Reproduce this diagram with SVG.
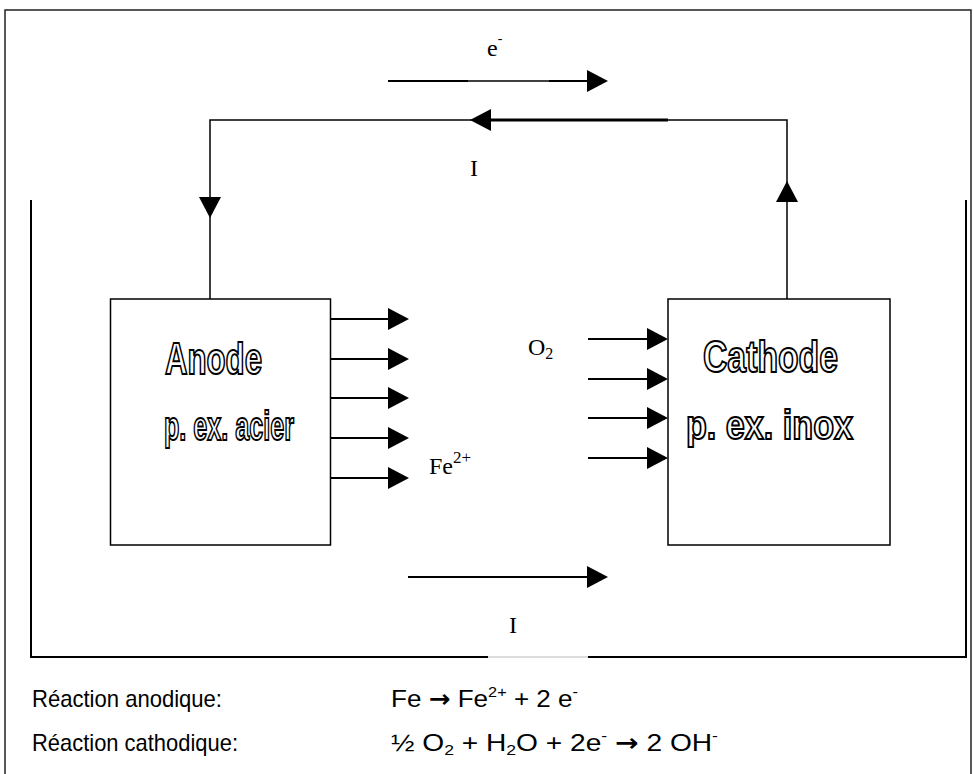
<svg xmlns="http://www.w3.org/2000/svg" width="974" height="774" viewBox="0 0 974 774">
<style>
.frame{fill:none;stroke:#222;stroke-width:1.5}
.wire{fill:none;stroke:#000;stroke-width:1.5}
.thick{fill:none;stroke:#000;stroke-width:3}
.arr{fill:none;stroke:#000;stroke-width:2}
.head{fill:#000}
.box{fill:#fff;stroke:#000;stroke-width:1.5}
.hollow{font-family:"Liberation Sans Narrow","Liberation Sans",Arial,sans-serif;font-weight:bold;font-size:44px;fill:#fff;stroke:#000;stroke-width:2}
.small{font-size:40px}
.serif{font-family:"Liberation Serif","Times New Roman",serif;font-size:24px;fill:#000}
.sans{font-family:"Liberation Sans",Arial,sans-serif;font-size:24px;fill:#000}
.sym{font-family:"DejaVu Sans",sans-serif;font-weight:bold}
</style>
<defs>
<marker id="ah" markerUnits="userSpaceOnUse" markerWidth="21" markerHeight="22" refX="0" refY="11" orient="auto">
<path d="M0,0 L21,11 L0,22 z" fill="#000"/>
</marker>
</defs>
<rect width="974" height="774" fill="#fff"/>
<rect class="frame" x="5" y="10" width="966" height="800"/>
<g id="beaker">
<path d="M31,200 V657 H488 M588,657 H966 V200" fill="none" stroke="#000" stroke-width="2"/>
<line x1="488" y1="657" x2="588" y2="657" stroke="#bbb" stroke-width="1"/>
</g>
<g id="connectors">
<path class="wire" d="M210,299 V120 H787 V299"/>
<line class="thick" x1="490" y1="120" x2="668" y2="120"/>
<polygon class="head" points="470,120 491,109 491,131"/>
<polygon class="head" points="210,218 199,197 221,197"/>
<polygon class="head" points="787,181 776,202 798,202"/>
<line class="arr" x1="388" y1="81" x2="468" y2="81"/>
<line class="wire" x1="468" y1="81" x2="549" y2="81" stroke-width="1"/>
<line class="arr" x1="549" y1="81" x2="588" y2="81"/>
<polygon class="head" points="608,81 587,70 587,92"/>
<line class="arr" x1="330" y1="319" x2="388" y2="319" marker-end="url(#ah)"/>
<line class="arr" x1="330" y1="359" x2="388" y2="359" marker-end="url(#ah)"/>
<line class="arr" x1="330" y1="398" x2="388" y2="398" marker-end="url(#ah)"/>
<line class="arr" x1="330" y1="438" x2="388" y2="438" marker-end="url(#ah)"/>
<line class="arr" x1="330" y1="478" x2="388" y2="478" marker-end="url(#ah)"/>
<line class="arr" x1="588" y1="339" x2="647" y2="339" marker-end="url(#ah)"/>
<line class="arr" x1="588" y1="379" x2="647" y2="379" marker-end="url(#ah)"/>
<line class="arr" x1="588" y1="418" x2="647" y2="418" marker-end="url(#ah)"/>
<line class="arr" x1="588" y1="458" x2="647" y2="458" marker-end="url(#ah)"/>
<line class="arr" x1="408" y1="577" x2="587" y2="577" marker-end="url(#ah)"/>
</g>
<g id="anode">
<rect class="box" x="110.5" y="299" width="220" height="246"/>
<text class="hollow" x="165" y="374" textLength="97" lengthAdjust="spacingAndGlyphs">Anode</text>
<text class="hollow small" x="164" y="440" textLength="130" lengthAdjust="spacingAndGlyphs">p. ex. acier</text>
</g>
<g id="cathode">
<rect class="box" x="668" y="299" width="222" height="246"/>
<text class="hollow" x="703" y="372" textLength="135" lengthAdjust="spacingAndGlyphs">Cathode</text>
<text class="hollow small" x="686" y="439" textLength="167" lengthAdjust="spacingAndGlyphs">p. ex. inox</text>
</g>
<g id="labels">
<text class="serif" x="487" y="56">e<tspan font-size="14" dy="-13">-</tspan></text>
<text class="serif" x="474" y="176" text-anchor="middle">I</text>
<text class="serif" x="528" y="355">O<tspan font-size="16" dy="4">2</tspan></text>
<text class="serif" x="429" y="474" font-size="27">Fe<tspan font-size="17" dy="-11">2+</tspan></text>
<text class="serif" x="513" y="633" text-anchor="middle">I</text>
</g>
<g id="reactions">
<text class="sans" x="32" y="707" textLength="190" lengthAdjust="spacingAndGlyphs">Réaction anodique:</text>
<text class="sans" x="391" y="707" textLength="187" lengthAdjust="spacingAndGlyphs">Fe <tspan class="sym">→</tspan> Fe<tspan font-size="15" dy="-10">2+</tspan><tspan dy="10"> + 2 e</tspan><tspan font-size="15" dy="-10">-</tspan></text>
<text class="sans" x="32" y="751" textLength="206" lengthAdjust="spacingAndGlyphs">Réaction cathodique:</text>
<text class="sans" x="391" y="751" textLength="327" lengthAdjust="spacingAndGlyphs">½ O<tspan font-size="15" dy="4">2</tspan><tspan dy="-4"> + H</tspan><tspan font-size="15" dy="4">2</tspan><tspan dy="-4">O + 2e</tspan><tspan font-size="15" dy="-10">-</tspan><tspan dy="10"> </tspan><tspan class="sym">→</tspan> 2 OH<tspan font-size="15" dy="-10">-</tspan></text>
</g>
</svg>
